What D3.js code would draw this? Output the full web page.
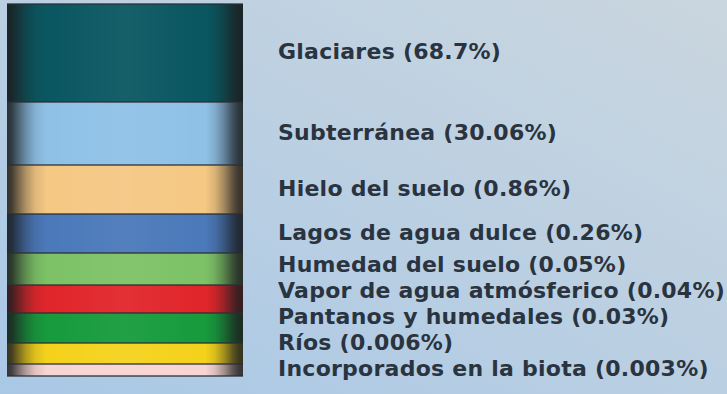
<!DOCTYPE html>
<html lang="es">
<head>
<meta charset="utf-8">
<script src="https://cdn.jsdelivr.net/npm/d3@7"></script>
<style>
  html, body { margin: 0; padding: 0; background: #bcd0e2; }
  svg { display: block; }
</style>
</head>
<body>
<svg id="chart" width="727" height="394"></svg>
<script>
// Distribution of the planet's fresh water by reservoir
const categories = [
  "Glaciares",
  "Subterránea",
  "Hielo del suelo",
  "Lagos de agua dulce",
  "Humedad del suelo",
  "Vapor de agua atmósferico",
  "Pantanos y humedales",
  "Ríos",
  "Incorporados en la biota"
];
const shares = [68.7, 30.06, 0.86, 0.26, 0.05, 0.04, 0.03, 0.006, 0.003];
const shareLabels = ["68.7%", "30.06%", "0.86%", "0.26%", "0.05%", "0.04%", "0.03%", "0.006%", "0.003%"];

const W = 727, H = 394;
const svg = d3.select("#chart");
const defs = svg.append("defs");

// Background wash
const bg = defs.append("linearGradient").attr("id", "bg")
  .attr("x1", "0").attr("y1", "1").attr("x2", "1").attr("y2", "0");
bg.append("stop").attr("offset", "0%").attr("stop-color", "#a9c8e6");
bg.append("stop").attr("offset", "55%").attr("stop-color", "#bcd0e2");
bg.append("stop").attr("offset", "100%").attr("stop-color", "#cad6df");
svg.append("rect").attr("width", W).attr("height", H).attr("fill", "url(#bg)");

// Colour per reservoir
const color = d3.scaleOrdinal()
  .domain(categories)
  .range(["#0a5761", "#8fc1e7", "#f5c884", "#4b79ba", "#7dc266",
          "#e1262b", "#179b3d", "#f4d21c", "#f7d5d2"]);

// Compressed display scale: band thickness grows with the share,
// so that the tiny reservoirs stay visible next to the glaciers.
const sorted = shares.slice().sort((a, b) => a - b);
const thickness = d3.scaleLog()
  .domain(sorted)
  .range([12, 21, 30, 28, 32, 39, 49, 63, 98]);

const bands = [];
let acc = 0;
categories.forEach((c, i) => {
  const t = thickness(shares[i]);
  bands.push({ name: c, share: shares[i], label: shareLabels[i], y0: acc, y1: acc + t });
  acc += t;
});

const barX = d3.scaleLinear().domain([0, 1]).range([7, 243]);
const y = d3.scaleLinear().domain([0, acc]).range([4, 376]);

// Cylinder shading across the column
const shade = defs.append("linearGradient").attr("id", "shade")
  .attr("x1", "0").attr("x2", "1").attr("y1", "0").attr("y2", "0");
[[0, 0.88], [0.02, 0.82], [0.045, 0.6], [0.08, 0.32], [0.12, 0.1], [0.17, 0.0],
 [0.84, 0.0], [0.88, 0.12], [0.92, 0.38], [0.955, 0.68], [0.98, 0.84], [1, 0.88]]
  .forEach(([o, a]) => shade.append("stop").attr("offset", o)
    .attr("stop-color", "#1c1e20").attr("stop-opacity", a));

const gloss = defs.append("linearGradient").attr("id", "gloss")
  .attr("x1", "0").attr("x2", "1").attr("y1", "0").attr("y2", "0");
[[0.2, 0], [0.5, 0.05], [0.8, 0]]
  .forEach(([o, a]) => gloss.append("stop").attr("offset", o)
    .attr("stop-color", "#ffffff").attr("stop-opacity", a));

const bar = svg.append("g");
bar.selectAll("rect.band")
  .data(bands)
  .join("rect")
  .attr("class", "band")
  .attr("x", barX(0))
  .attr("width", barX(1) - barX(0))
  .attr("y", d => y(d.y0))
  .attr("height", d => y(d.y1) - y(d.y0))
  .attr("fill", d => color(d.name));

bar.append("rect")
  .attr("x", barX(0)).attr("width", barX(1) - barX(0))
  .attr("y", y(0)).attr("height", y(acc) - y(0))
  .attr("fill", "url(#gloss)");
bar.append("rect")
  .attr("x", barX(0)).attr("width", barX(1) - barX(0))
  .attr("y", y(0)).attr("height", y(acc) - y(0))
  .attr("fill", "url(#shade)");

// Separators between reservoirs and the column's top / bottom rims
bar.selectAll("line.sep")
  .data(bands.map(d => d.y0).concat([acc]))
  .join("line")
  .attr("class", "sep")
  .attr("x1", barX(0)).attr("x2", barX(1))
  .attr("y1", d => y(d)).attr("y2", d => y(d))
  .attr("stroke", "#2a2e31")
  .attr("stroke-opacity", 0.85)
  .attr("stroke-width", 1.6);

// Labels: centred on their band, pushed up where they would collide
const gap = 26;
const base = bands.map(d => (y(d.y0) + y(d.y1)) / 2 + 6);
for (let i = base.length - 2; i >= 0; i--) {
  base[i] = Math.min(base[i], base[i + 1] - gap);
}

svg.append("g")
  .selectAll("text")
  .data(bands)
  .join("text")
  .attr("x", 278)
  .attr("y", (d, i) => base[i])
  .attr("fill", "#2a3440")
  .style("font-family", "'DejaVu Sans', sans-serif")
  .style("font-weight", "bold")
  .style("font-size", "22px")
  .style("letter-spacing", "0.25px")
  .text(d => `${d.name} (${d.label})`);
</script>
</body>
</html>
